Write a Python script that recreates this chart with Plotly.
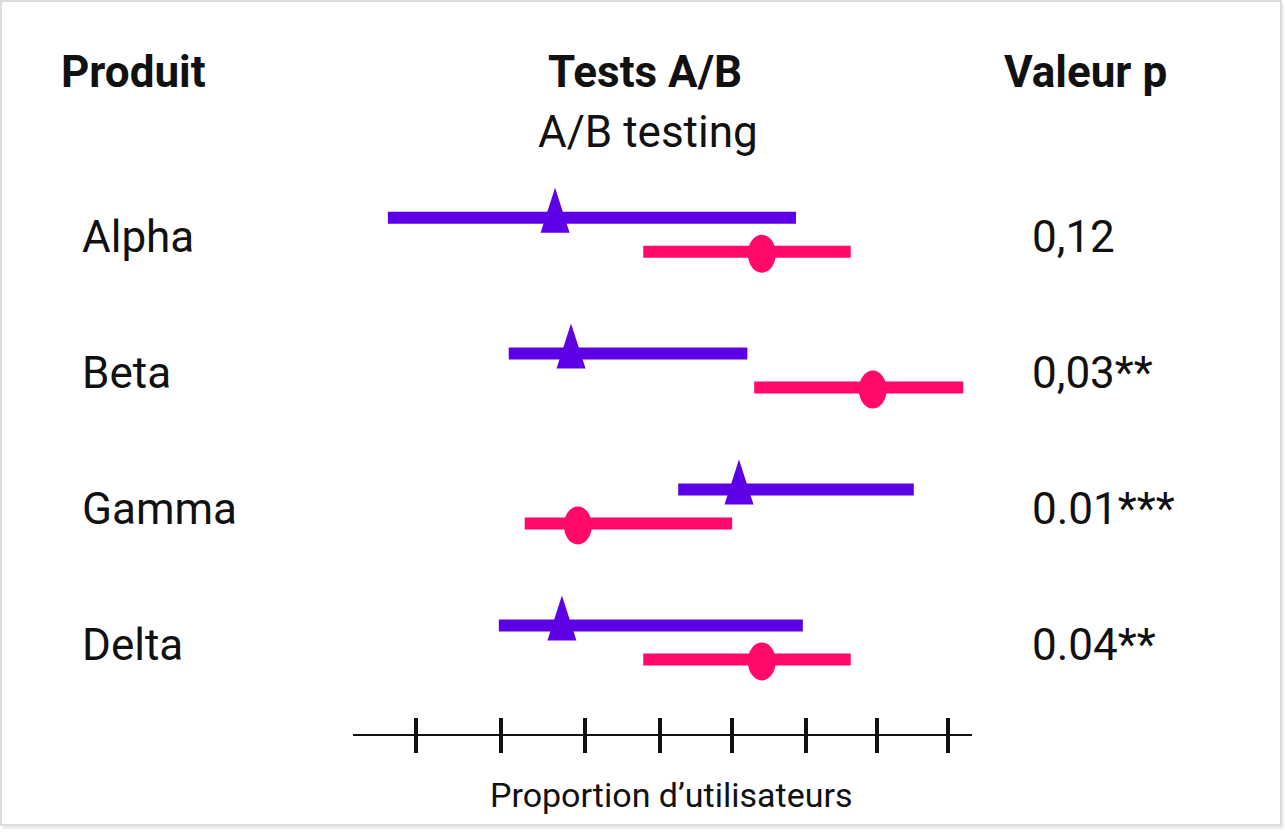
import plotly.graph_objects as go

W, H = 1285, 832

products = ["Alpha", "Beta", "Gamma", "Delta"]
p_values = ["0,12", "0,03**", "0.01***", "0.04**"]

# Series A (purple, triangle): lower bound, estimate, upper bound
a_low = [0.063, 0.222, 0.445, 0.209]
a_est = [0.283, 0.304, 0.525, 0.292]
a_high = [0.600, 0.536, 0.755, 0.609]

# Series B (pink, circle)
b_low = [0.399, 0.545, 0.243, 0.399]
b_est = [0.555, 0.701, 0.313, 0.555]
b_high = [0.672, 0.820, 0.516, 0.672]

tick_vals = [0.100, 0.212, 0.322, 0.421, 0.516, 0.613, 0.707, 0.800]

x_title = "Proportion d\u2019utilisateurs"
header_left = "Produit"
header_mid = "Tests A/B"
subtitle = "A/B testing"
header_right = "Valeur p"

PURPLE = "#5D00E5"
PINK = "#FF0A6A"
FONT = "Roboto, Arial, sans-serif"
OFF = 0.125  # vertical offset of each series within a row (row units)

def px_x(p):
    return p / W

def px_y(p):
    return 1 - p / H

fig = go.Figure()

def seg_trace(lows, highs, offset, color):
    xs, ys = [], []
    for i, (lo, hi) in enumerate(zip(lows, highs)):
        xs += [lo, hi, None]
        ys += [i + offset, i + offset, None]
    return go.Scatter(x=xs, y=ys, mode="lines", line=dict(color=color, width=12),
                      hoverinfo="skip", showlegend=False)

fig.add_trace(seg_trace(a_low, a_high, -OFF, PURPLE))
fig.add_trace(seg_trace(b_low, b_high, OFF, PINK))
# invisible trace to activate the secondary x axis (inner tick half)
fig.add_trace(go.Scatter(x=[tick_vals[0]], y=[0], xaxis="x2", mode="markers",
                         marker=dict(opacity=0), hoverinfo="skip", showlegend=False))

shapes = []
for i, v in enumerate(a_est):
    shapes.append(dict(type="path", xref="x", yref="y", xsizemode="pixel", ysizemode="pixel",
                       xanchor=v, yanchor=i - OFF,
                       path="M -14.5,-15 L 14.5,-15 L 0,30 Z",
                       fillcolor=PURPLE, line=dict(width=0)))
for i, v in enumerate(b_est):
    shapes.append(dict(type="circle", xref="x", yref="y", xsizemode="pixel", ysizemode="pixel",
                       xanchor=v, yanchor=i + OFF, x0=-14, x1=14, y0=-21, y1=17,
                       fillcolor=PINK, line=dict(width=0)))
# card frame
shapes.append(dict(type="rect", xref="paper", yref="paper",
                   x0=px_x(1), x1=px_x(1281), y0=px_y(1), y1=px_y(825),
                   line=dict(color="#dcdcdc", width=2), fillcolor="rgba(0,0,0,0)", layer="below"))
shapes.append(dict(type="line", xref="paper", yref="paper",
                   x0=px_x(3), x1=px_x(1283), y0=px_y(827.5), y1=px_y(827.5),
                   line=dict(color="#ececec", width=3), layer="below"))
shapes.append(dict(type="line", xref="paper", yref="paper",
                   x0=px_x(1283), x1=px_x(1283), y0=px_y(3), y1=px_y(828),
                   line=dict(color="#f0f0f0", width=2), layer="below"))

annotations = []
for i, (name, pv) in enumerate(zip(products, p_values)):
    annotations.append(dict(text=name, xref="paper", yref="y", x=px_x(80), y=i + 0.02,
                            xanchor="left", yanchor="middle", showarrow=False,
                            font=dict(family=FONT, size=44, color="#111111")))
    annotations.append(dict(text=pv, xref="paper", yref="y", x=px_x(1030), y=i + 0.02,
                            xanchor="left", yanchor="middle", showarrow=False,
                            font=dict(family=FONT, size=44, color="#111111")))

annotations += [
    dict(text="<b>%s</b>" % header_left, xref="paper", yref="paper", x=px_x(59), y=px_y(72),
         xanchor="left", yanchor="middle", showarrow=False,
         font=dict(family=FONT, size=44, color="#111111")),
    dict(text="<b>%s</b>" % header_mid, xref="paper", yref="paper", x=px_x(645), y=px_y(72),
         xanchor="center", yanchor="middle", showarrow=False,
         font=dict(family=FONT, size=44, color="#111111")),
    dict(text=subtitle, xref="paper", yref="paper", x=px_x(648), y=px_y(132),
         xanchor="center", yanchor="middle", showarrow=False,
         font=dict(family=FONT, size=44, color="#111111")),
    dict(text="<b>%s</b>" % header_right, xref="paper", yref="paper", x=px_x(1002), y=px_y(72),
         xanchor="left", yanchor="middle", showarrow=False,
         font=dict(family=FONT, size=44, color="#111111")),
    dict(text=x_title, xref="paper", yref="paper", x=px_x(671), y=px_y(795),
         xanchor="center", yanchor="middle", showarrow=False,
         font=dict(family=FONT, size=34, color="#111111")),
]

x_lo = 0.1 - 63 / 760
x_hi = 0.8 + 24 / 760
row0 = 234.7
row_px = 135.9
y_top = -row0 / row_px
y_bot = (H - row0) / row_px

axis_common = dict(range=[x_lo, x_hi], domain=[px_x(353), px_x(972)], anchor="free",
                   position=px_y(735), tickmode="array", tickvals=tick_vals,
                   showticklabels=False, showgrid=False, zeroline=False,
                   ticklen=17, tickwidth=4, tickcolor="#111111")

fig.update_layout(
    width=W, height=H,
    margin=dict(l=0, r=0, t=0, b=0),
    paper_bgcolor="white", plot_bgcolor="rgba(0,0,0,0)",
    xaxis=dict(**axis_common, ticks="outside", showline=True, linecolor="#111111", linewidth=2),
    xaxis2=dict(**axis_common, ticks="inside", overlaying="x", side="bottom", showline=False),
    yaxis=dict(range=[y_bot, y_top], domain=[0, 1], visible=False, fixedrange=True),
    shapes=shapes, annotations=annotations, showlegend=False,
)

fig.write_html("out.html")
